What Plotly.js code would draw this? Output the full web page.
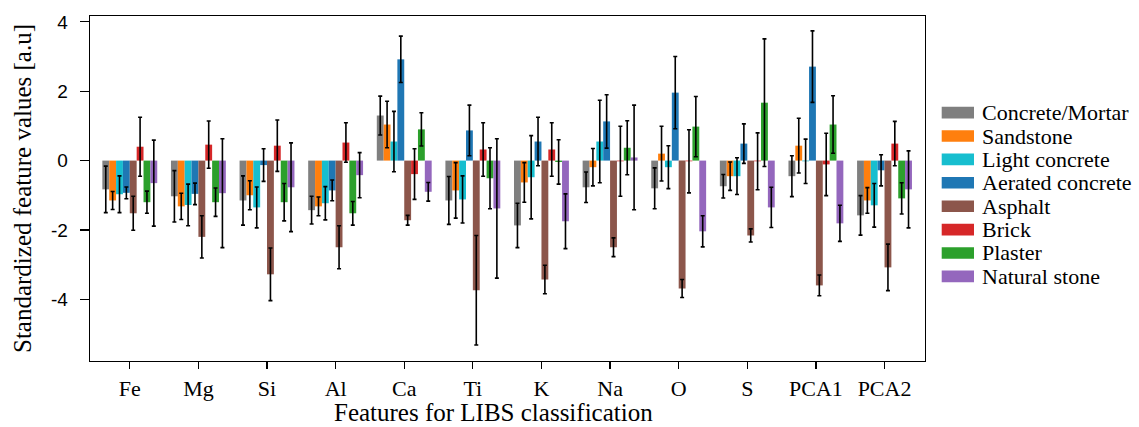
<!DOCTYPE html>
<html>
<head>
<meta charset="utf-8">
<script src="https://cdn.plot.ly/plotly-3.0.1.min.js"></script>
<style>
  html, body { margin: 0; padding: 0; background: #fff; }
  #chart { width: 1139px; height: 427px; }
</style>
</head>
<body>
<div id="chart"></div>
<script>
const categories = ['Fe','Mg','Si','Al','Ca','Ti','K','Na','O','S','PCA1','PCA2'];

const seriesNames = ['Concrete/Mortar','Sandstone','Light concrete','Aerated concrete','Asphalt','Brick','Plaster','Natural stone'];

const concrete    = [-0.83,-1.03,-1.15,-1.43, 1.30,-1.15,-1.87,-0.77,-0.80,-0.74,-0.45,-1.58];
const concreteErr = [ 0.67, 0.74, 0.71, 0.40, 0.56, 0.69, 0.64, 0.44, 0.59, 0.34, 0.59, 0.57];
const sandstone    = [-1.15,-1.32,-1.00,-1.32, 1.04,-0.86,-0.63,-0.19, 0.20,-0.45, 0.43,-1.15];
const sandstoneErr = [ 0.26, 0.38, 0.42, 0.27, 0.67, 0.80, 0.57, 0.54, 0.79, 0.41, 0.79, 0.37];
const lightConcrete    = [-0.97,-1.28,-1.35,-1.23, 0.55,-1.12,-0.48, 0.55,-0.19,-0.45,-0.02,-1.29];
const lightConcreteErr = [ 0.53, 0.60, 0.59, 0.48, 0.87, 0.68, 1.20, 1.19, 0.62, 0.53, 0.64, 0.63];
const aerated    = [-0.93,-0.96,-0.13,-0.86, 2.92, 0.87, 0.55, 1.13, 1.96, 0.49, 2.71,-0.28];
const aeratedErr = [ 0.17, 0.31, 0.47, 0.30, 0.67, 0.73, 0.70, 0.77, 1.04, 0.57, 1.03, 0.45];
const asphalt    = [-1.52,-2.20,-3.28,-2.50,-1.72,-3.74,-3.43,-2.50,-3.69,-2.16,-3.60,-3.08];
const asphaltErr = [ 0.49, 0.61, 0.76, 0.62, 0.14, 1.58, 0.41, 0.27, 0.26, 0.19, 0.30, 0.67];
const brick    = [ 0.40, 0.46, 0.43, 0.52,-0.39, 0.32, 0.32,-0.02,-0.02,-0.02,-0.11, 0.49];
const brickErr = [ 0.85, 0.68, 0.74, 0.57, 0.73, 0.77, 0.77, 1.01, 0.91, 0.82, 0.90, 0.64];
const plaster    = [-1.20,-1.20,-1.20,-1.52, 0.90,-0.51,-0.04, 0.37, 0.98, 1.67, 1.04,-1.09];
const plasterErr = [ 0.32, 0.41, 0.54, 0.34, 0.48, 0.88, 0.64, 0.78, 0.87, 1.84, 0.83, 0.45];
const naturalStone    = [-0.65,-0.94,-0.77,-0.42,-0.90,-1.38,-1.75, 0.09,-2.04,-1.35,-1.81,-0.83];
const naturalStoneErr = [ 1.24, 1.57, 1.28, 0.65, 0.27, 2.01, 0.79, 1.51, 0.45, 0.58, 0.52, 1.11];

const yTickVals = [-4,-2,0,2,4];
const yTickText = ['-4','-2','0','2','4'];

const xTitle = 'Features for LIBS classification';
const yTitle = 'Standardized feature values [a.u]';

const seriesValues = [concrete, sandstone, lightConcrete, aerated, asphalt, brick, plaster, naturalStone];
const seriesErrors = [concreteErr, sandstoneErr, lightConcreteErr, aeratedErr, asphaltErr, brickErr, plasterErr, naturalStoneErr];
const colors = ['#7f7f7f','#ff7f0e','#17becf','#1f77b4','#8c564b','#d62728','#2ca02c','#9467bd'];

const serif = 'Liberation Serif';
const sans = 'Liberation Sans';

const traces = seriesNames.map((name, i) => ({
  type: 'bar',
  name: name,
  x: categories,
  y: seriesValues[i],
  marker: { color: colors[i], line: { width: 0 } },
  error_y: { type: 'data', array: seriesErrors[i], visible: true, color: '#000', thickness: 1.6, width: 2 },
  showlegend: false
}));

// plot area geometry (pixels)
const W = 1139, H = 427;
const mL = 90, mR = 214, mT = 16, mB = 66;
const pw = W - mL - mR, ph = H - mT - mB;

// custom legend (matplotlib style wide swatches)
const shapes = [];
const annotations = [];
const legTop = 112.6, legStep = 23.4;
seriesNames.forEach((name, i) => {
  const yc = legTop + legStep * i;
  const py = (H - mB - yc) / ph;
  shapes.push({
    type: 'rect', xref: 'paper', yref: 'paper',
    x0: (941.7 - mL) / pw, x1: (974 - mL) / pw,
    y0: py - 5.8 / ph, y1: py + 5.8 / ph,
    fillcolor: colors[i], line: { width: 0 }
  });
  annotations.push({
    xref: 'paper', yref: 'paper',
    x: (979.5 - mL) / pw, y: py,
    xanchor: 'left', yanchor: 'middle',
    text: name, showarrow: false,
    font: { family: serif, size: 22, color: '#000' }
  });
});

// x-axis title (placed as in the reference, slightly left of plot centre)
annotations.push({
  xref: 'paper', yref: 'paper',
  x: (493 - mL) / pw, y: (H - mB - 426.5) / ph,
  xanchor: 'center', yanchor: 'bottom',
  borderpad: 0,
  text: xTitle, showarrow: false,
  font: { family: serif, size: 25, color: '#000' }
});

const layout = {
  width: W, height: H,
  margin: { l: mL, r: mR, t: mT, b: mB, pad: 0 },
  paper_bgcolor: '#fff', plot_bgcolor: '#fff',
  barmode: 'group', bargap: 0.2, bargroupgap: 0,
  showlegend: false,
  xaxis: {
    type: 'category',
    range: [-0.58, 11.59],
    showline: true, linecolor: '#000', linewidth: 1.3, mirror: true,
    ticks: 'outside', ticklen: 7, tickwidth: 1.2, tickcolor: '#000',
    showgrid: false, zeroline: false,
    tickfont: { family: serif, size: 22, color: '#000' }
  },
  yaxis: {
    range: [-5.78, 4.17],
    tickvals: yTickVals, ticktext: yTickText,
    showline: true, linecolor: '#000', linewidth: 1.3, mirror: true,
    ticks: 'outside', ticklen: 9, tickwidth: 1.2, tickcolor: '#000',
    ticklabelstandoff: 8,
    showgrid: false, zeroline: false,
    tickfont: { family: sans, size: 19, color: '#000' },
    title: { text: yTitle, font: { family: serif, size: 25, color: '#000' }, standoff: 12 }
  },
  shapes: shapes,
  annotations: annotations
};

Plotly.newPlot('chart', traces, layout, { displayModeBar: false, staticPlot: true });
</script>
</body>
</html>
